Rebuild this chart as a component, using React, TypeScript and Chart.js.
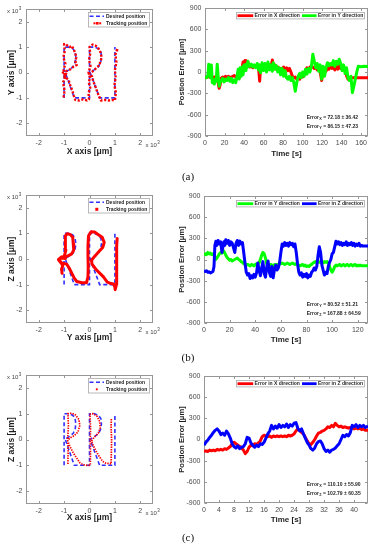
import { useEffect, useRef } from "react";
import { Chart, registerables } from "chart.js";

Chart.register(...registerables);

const PAGE_W = 373;
const PAGE_H = 550;
const SANS = "'Liberation Sans', Arial, Helvetica, sans-serif";
const SERIF = "'Liberation Serif', 'Times New Roman', serif";
const RED = "#ff0000";
const GREEN = "#00ff00";
const BLUE = "#0000ff";
const DESIRED_BLUE = "#3030ff";
const TICK_COLOR = "#4a4a4a";
const TITLE_COLOR = "#1e1e1e";

// ---------------- tick values ----------------
const positionTicks = [-2000, -1000, 0, 1000, 2000];
const errorTicks = [-900, -600, -300, 0, 300, 600, 900];
const timeTicksA = [0, 20, 40, 60, 80, 100, 120, 140, 160];
const timeTicksB = [0, 20, 40, 60, 80, 100, 120];
const timeTicksC = [0, 4, 8, 12, 16, 20, 24, 28, 32, 36, 40];

// ---------------- desired RRI path (µm) ----------------
const desiredX = [-1000, -1000, -800, -660, -570, -540, -560, -640, -780, -960, -600, -300, 0, 0, 0, 200, 360, 450, 470, 440, 350, 200, 20, 400, 700, 1000, 1000];
const desiredY = [-1000, 1000, 1000, 940, 820, 620, 420, 240, 120, 20, -1000, -1000, -1000, 0, 1000, 1000, 930, 800, 600, 400, 230, 110, 10, -1000, -1000, -1000, 1000];

// ---------------- tracking paths (µm) ----------------
const trackAX = [
  -1020, -980, -1040, -960, -1020, -950, -1030, -970, -1000, -900,
  -780, -700, -620, -560, -520, -560, -500, -640, -760, -900,
  -1050, -880, -980, -820, -760, -680, -620, -560, -400, -250,
  -100, -20, -40, 30, -30, 20, -40, 40, -20, 30,
  0, 120, 250, 350, 430, 480, 430, 380, 240, 120,
  -10, 100, 150, 230, 300, 380, 450, 600, 750, 900,
  1000, 1040, 980, 1030, 1000, 1060, 1020, 1100, 1080,
];
const trackAY = [
  -980, -700, -400, -150, 100, 350, 600, 850, 1120, 1080,
  1000, 1050, 900, 760, 600, 450, 300, 220, 120, 60,
  0, -80, -150, -300, -500, -700, -900, -1080, -1100, -1060,
  -1100, -1050, -800, -600, -400, -200, 0, 250, 500, 750,
  1000, 1100, 1050, 950, 800, 600, 420, 280, 150, 40,
  -50, -150, -350, -550, -750, -950, -1100, -1080, -1100, -1080,
  -1100, -800, -500, -200, 100, 400, 700, 950, 850,
];

const trackBX = [
  -1080, -1100, -1050, -1150, -1220, -1100, -950, -980, -930, -960,
  -940, -880, -760, -660, -640, -620, -700, -850, -1100, -1220,
  -1100, -900, -800, -700, -600, -500, -300, -120, -60, -50,
  -60, -60, -40, 60, 200, 350, 500, 580, 520, 380,
  200, 80, 100, 250, 400, 550, 700, 850, 950, 1000,
  1010, 1060, 1070, 1060, 1080, 1070, 1090,
];
const trackBY = [
  -560, -400, -250, -120, -30, 40, 20, 150, 350, 600,
  900, 990, 960, 850, 600, 350, 200, 120, 80, -20,
  -150, -200, -350, -550, -750, -880, -930, -930, -700, -300,
  100, 500, 900, 1060, 1050, 950, 850, 650, 450, 300,
  100, -50, -200, -400, -550, -700, -900, -960, -980, -1100,
  -1200, -1000, -700, -300, 100, 500, 800,
];

const trackCX = [
  -850, -840, -860, -830, -850, -700, -550, -420, -380, -450,
  -600, -780, -860, -780, -650, -520, -380, -250, -100, 30,
  40, 30, 40, 20, 150, 300, 400, 420, 350, 200,
  80, 150, 260, 380, 520, 650, 800, 850, 860, 870,
  850, 860,
];
const trackCY = [
  -950, -500, 0, 500, 1000, 1020, 950, 780, 550, 300,
  150, 50, -50, -250, -500, -700, -900, -980, -1000, -1000,
  -500, 0, 500, 980, 1000, 900, 700, 450, 250, 100,
  -50, -250, -450, -650, -850, -920, -930, -950, -500, 0,
  500, 800,
];

// ---------------- position error series ----------------
const timeA = [
  0, 1.5, 3, 3.8, 4.5, 5.5, 6.5, 7.5, 8.5, 9.5,
  10.5, 11.5, 12.5, 13.5, 14.5, 15.5, 16.5, 18, 19.5, 21,
  22.5, 24, 25.5, 27, 28.5, 30, 31.5, 33, 34, 35,
  36, 37, 38, 39, 40, 41, 42, 43, 44, 45,
  46, 47.5, 49, 50.5, 52, 53.5, 55, 56, 57, 58.5,
  60, 61.5, 63, 64.5, 66, 67.5, 69, 70, 71.5, 73,
  74.5, 76, 77.5, 79, 80.5, 82, 83.5, 85, 86.5, 88,
  89.5, 91, 92.5, 94, 95.5, 97, 98.5, 100, 101.5, 103,
  104.5, 106, 107.5, 109, 110.5, 112, 113.5, 115, 116.5, 118,
  119.5, 121, 122.5, 124, 125.5, 127, 128.5, 130, 131.5, 133,
  134.5, 136, 137.5, 139, 140.5, 142, 143.5, 145, 146.5, 148,
  149.5, 151, 152.5, 154, 155.5, 157, 160, 163, 167,
];
const errorAX = [
  -70, -75, -70, -65, -70, -60, -70, -80, -75, -70,
  -80, -90, -100, -150, -230, -180, -90, -70, -80, -60,
  -70, -60, -80, -70, -60, -50, -70, -60, -40, -80,
  -40, 0, 50, 140, 80, 160, 60, 100, 140, 80,
  70, 80, 60, 90, 70, 80, 40, -130, 80, 60,
  100, 40, 90, 50, 100, 60, 170, 60, 100, 40,
  70, 30, 50, 40, 70, 30, 60, 20, 50, 0,
  -60, -80, -70, -100, -80, -100, -50, -70, -50, 20,
  60, 40, 70, 60, 70, 50, 80, 30, 50, 0,
  -120, 20, 40, 10, 60, 40, 80, 50, 70, 30,
  80, 40, 90, 50, 60, 30, 50, -50, -100, -80,
  -90, -80, -80, -80, -80, -80, -80, -80, -80,
];
const errorAY = [
  -60, -80, -50, 110, 60, -80, 100, -150, -120, -170,
  -100, -130, 110, -60, -200, -150, -120, -90, -140, -100,
  -120, -80, -130, -90, -150, -110, -150, -50, 40, -100,
  60, -60, 70, -40, 100, 20, 110, 60, 150, 100,
  80, 110, 70, 100, 60, 120, 30, 100, -10, 130,
  20, 120, 0, 140, 30, 100, 10, 130, 40, 90,
  0, 60, -40, 50, -60, 20, -80, -100, -60, -120,
  -80, -150, -270, -150, -60, -20, -80, 0, -60, 40,
  -30, 50, 0, 80, 250, 150, 60, 120, 10, 100,
  -100, 80, -60, 60, 130, 90, 120, 100, 160, 80,
  150, 110, 180, 120, 20, 100, -20, 60, -80, -120,
  -60, -290, -200, -100, 0, 80, 75, 80, 78,
];

const timeB = [
  0, 1, 2, 3, 4, 5, 6, 7, 7.8, 8.5,
  9.3, 10, 11, 12, 13, 14, 14.8, 15.5, 16.3, 17,
  18, 19, 20, 21, 22, 23, 24, 25, 26, 27,
  28, 29, 30, 31, 32, 33, 34, 35, 36, 37,
  38, 39, 40, 41, 42, 43, 44, 45, 46, 47,
  48, 49, 50, 51, 52, 53, 54, 55, 56, 57,
  58, 59, 60, 61, 62, 63, 64, 65, 66, 67,
  68, 69, 70, 71, 72, 73, 74, 75, 76, 77,
  78, 79, 80, 81, 82, 83, 84, 85, 86, 87,
  88, 89, 90, 91, 92, 93, 94, 95, 96, 97,
  98, 99, 100, 101, 102, 103, 104, 105, 106, 107,
  108, 109, 110, 111, 112, 113, 114, 115, 116, 117,
  118, 119, 120, 121, 122, 123, 124, 125, 126, 128,
];
const errorBY = [
  60, 80, 70, 100, 80, 90, 70, 80, 60, 30,
  0, 20, 50, 80, 100, 90, 110, 120, 90, 60,
  30, 10, -10, 0, -20, -10, 0, 10, 20, 0,
  -10, -30, -40, -60, -70, -80, -70, -80, -90, -70,
  -80, -90, -70, -60, -70, -50, 0, 60, 100, 80,
  20, -60, -80, -90, -70, -80, -90, -70, -80, -70,
  -80, -60, -60, -50, -60, -70, -60, -50, -60, -70,
  -60, -50, -60, -70, -60, -70, -80, -90, -80, -70,
  -90, -80, -100, -90, -100, -80, -70, -50, -40, -30,
  -40, -30, -40, -30, -40, -50, -30, -40, -30, -50,
  -100, -150, -180, -150, -100, -80, -90, -80, -70, -90,
  -80, -70, -90, -80, -70, -90, -80, -70, -90, -80,
  -70, -90, -80, -90, -80, -90, -90, -90, -90, -90,
];
const errorBZ = [
  -160, -170, -160, -180, -175, -190, -180, -170, -100, 200,
  260, 200, 270, 220, 250, 100, 180, 250, 200, 280,
  230, 270, 200, 250, 230, 170, 100, 230, 270, 200,
  260, 220, 240, 100, -50, -180, -220, -200, -270, -230,
  -260, -210, -250, -190, -50, -150, -230, -120, -30, -200,
  -250, -100, -20, -180, -240, -100, -260, -140, -80, -150,
  -120, -40, 100, 220, 190, 240, 200, 230, 190, 240,
  210, 230, 180, 220, 100, -60, -180, -220, -190, -250,
  -210, -240, -200, -260, -220, -240, -180, -160, -120, -150,
  -100, 60, 180, 100, -80, -150, -220, -180, -200, -100,
  -40, 0, 80, 100, 180, 260, 220, 250, 210, 240,
  200, 230, 210, 250, 200, 230, 210, 240, 200, 230,
  190, 220, 200, 230, 190, 200, 190, 190, 190, 190,
];

const timeC = [
  0, 0.5, 1, 1.5, 2, 2.5, 3, 3.5, 4, 4.5,
  5, 5.5, 6, 6.5, 7, 7.5, 8, 8.5, 9, 9.5,
  10, 10.5, 11, 11.5, 12, 12.5, 13, 13.5, 14, 14.5,
  15, 15.5, 16, 16.5, 17, 17.5, 18, 18.5, 19, 19.5,
  20, 20.5, 21, 21.5, 22, 22.5, 23, 23.5, 24, 24.5,
  25, 25.5, 26, 26.5, 27, 27.5, 28, 28.5, 29, 29.5,
  30, 30.5, 31, 31.5, 32, 32.5, 33, 33.5, 34, 34.5,
  35, 35.5, 36, 36.5, 37, 37.5, 38, 38.5, 39, 39.5,
  40, 40.5, 41, 41.5, 42, 42.5, 43, 43.7,
];
const errorCX = [
  -170, -160, -170, -150, -160, -150, -160, -140, -150, -140,
  -150, -130, -140, -120, -100, -60, -40, -60, -80, -100,
  -120, -150, -200, -170, -110, -80, -90, -60, -70, -50,
  -20, 40, 60, 50, 40, 50, 30, 50, 40, 50,
  40, 50, 40, 50, 40, 60, 50, 60, 80, 120,
  150, 130, 100, 80, 30, -20, -60, -70, -40, 0,
  50, 90, 100, 120, 130, 150, 180, 170, 200, 180,
  230, 200, 180, 190, 170, 180, 170, 160, 170, 160,
  150, 160, 150, 160, 140, 150, 130, 130,
];
const errorCZ = [
  -80, -40, -10, 30, 60, 100, 130, 150, 120, 70,
  90, 60, 120, 80, 20, -60, -100, -120, -90, -130,
  -110, -100, -60, 30, 20, -50, -80, -110, -80, -100,
  -60, -70, -40, 20, 80, 120, 200, 150, 190, 160,
  210, 170, 200, 180, 220, 170, 210, 190, 230, 240,
  160, 120, 150, 80, 20, -40, -80, -130, -150, -120,
  -60, -30, -20, -60, -130, -170, -150, -180, -150, -140,
  -120, -90, -60, 0, 60, 40, 70, 50, 100, 200,
  180, 210, 170, 200, 180, 200, 170, 190,
];

// ---------------- helpers ----------------
type Area = { left: number; right: number; top: number; bottom: number };
type Geo = { l: number; r: number; t: number; b: number };

const pts = (xs: number[], ys: number[]) => xs.map((x, i) => ({ x, y: ys[i] }));

function setFont(ctx: CanvasRenderingContext2D, size: number, bold: boolean) {
  ctx.font = `${bold ? "bold " : ""}${size}px ${SANS}`;
}

function drawBox(ctx: CanvasRenderingContext2D, x: number, y: number, w: number, h: number) {
  ctx.fillStyle = "#ffffff";
  ctx.fillRect(x, y, w, h);
  ctx.strokeStyle = "#a9a9a9";
  ctx.lineWidth = 0.8;
  ctx.strokeRect(x + 0.5, y + 0.5, w - 1, h - 1);
}

function drawExponent(ctx: CanvasRenderingContext2D, x: number, y: number) {
  ctx.fillStyle = "#444";
  ctx.textBaseline = "middle";
  ctx.textAlign = "left";
  setFont(ctx, 6, false);
  ctx.fillText("x 10", x, y);
  const w = ctx.measureText("x 10").width;
  setFont(ctx, 4.5, false);
  ctx.fillText("3", x + w + 0.5, y - 2.8);
}

type MarkerKind = "squares" | "square" | "dot";

function drawXYOverlay(ctx: CanvasRenderingContext2D, a: Area, marker: MarkerKind) {
  const x = 88;
  const y = a.top + 3;
  drawBox(ctx, x, y, 62, 15.5);
  const y1 = y + 4.2;
  const y2 = y + 11.3;
  ctx.strokeStyle = DESIRED_BLUE;
  ctx.lineWidth = 1.5;
  ctx.setLineDash([4, 2.5]);
  ctx.beginPath();
  ctx.moveTo(89.5, y1);
  ctx.lineTo(104, y1);
  ctx.stroke();
  ctx.setLineDash([]);
  ctx.fillStyle = RED;
  if (marker === "squares") {
    ctx.fillRect(93.5, y2 - 1, 2, 2);
    ctx.fillRect(96, y2 - 1.3, 2.6, 2.6);
    ctx.fillRect(99.2, y2 - 1, 2, 2);
  } else if (marker === "square") {
    ctx.fillRect(95.3, y2 - 1.5, 3, 3);
  } else {
    ctx.beginPath();
    ctx.arc(96.8, y2, 1.1, 0, Math.PI * 2);
    ctx.fill();
  }
  ctx.fillStyle = TITLE_COLOR;
  ctx.textBaseline = "middle";
  ctx.textAlign = "left";
  setFont(ctx, 5, true);
  ctx.fillText("Desired position", 106, y1);
  ctx.fillText("Tracking position", 106, y2);
  drawExponent(ctx, 7, a.top + 2.5);
  drawExponent(ctx, 145.5, a.bottom + 9.5);
}

function drawTSOverlay(
  ctx: CanvasRenderingContext2D,
  a: Area,
  items: [string, string][],
  stats: [string, string][]
) {
  const x = 236;
  const y = a.top + 4;
  const h = 7.4;
  drawBox(ctx, x, y, 129, h);
  const cy = y + h / 2;
  const sampleX = [
    [237.5, 253.2, 254.6],
    [302, 316.6, 318],
  ];
  items.forEach(([color, label], i) => {
    const [s0, s1, tx] = sampleX[i];
    ctx.strokeStyle = color;
    ctx.lineWidth = 2.8;
    ctx.beginPath();
    ctx.moveTo(s0, cy);
    ctx.lineTo(s1, cy);
    ctx.stroke();
    ctx.fillStyle = TITLE_COLOR;
    ctx.textBaseline = "middle";
    ctx.textAlign = "left";
    setFont(ctx, 5, true);
    ctx.fillText(label, tx, cy + 0.2);
  });
  stats.forEach(([sub, rest], i) => {
    const sy = a.bottom - 18.5 + i * 8.7;
    let sx = 306.7;
    ctx.fillStyle = TITLE_COLOR;
    ctx.textBaseline = "middle";
    ctx.textAlign = "left";
    setFont(ctx, 5, true);
    ctx.fillText("Error", sx, sy);
    sx += ctx.measureText("Error").width;
    setFont(ctx, 3.8, true);
    ctx.fillText(sub, sx + 0.2, sy + 1.6);
    sx += ctx.measureText(sub).width + 0.4;
    setFont(ctx, 5, true);
    ctx.fillText(rest, sx, sy);
  });
}

const framePlugin = {
  id: "matlabFrame",
  beforeDatasetsDraw(chart: any) {
    const { ctx, chartArea: a, scales } = chart;
    const L = Math.round(a.left) + 0.5;
    const R = Math.round(a.right) - 0.5;
    const T = Math.round(a.top) + 0.5;
    const B = Math.round(a.bottom) - 0.5;
    ctx.save();
    ctx.strokeStyle = "#969696";
    ctx.lineWidth = 1;
    ctx.strokeRect(L, T, R - L, B - T);
    ctx.beginPath();
    for (const t of scales.x.ticks) {
      const p = Math.round(scales.x.getPixelForValue(t.value)) + 0.5;
      ctx.moveTo(p, B);
      ctx.lineTo(p, B - 2.5);
      ctx.moveTo(p, T);
      ctx.lineTo(p, T + 2.5);
    }
    for (const t of scales.y.ticks) {
      const p = Math.round(scales.y.getPixelForValue(t.value)) + 0.5;
      ctx.moveTo(L, p);
      ctx.lineTo(L + 2.5, p);
      ctx.moveTo(R, p);
      ctx.lineTo(R - 2.5, p);
    }
    ctx.stroke();
    ctx.restore();
  },
};

interface PanelDef {
  geo: Geo;
  xMin: number;
  xMax: number;
  xTicks: number[];
  yMin: number;
  yMax: number;
  yTicks: number[];
  fmt: (v: number) => string;
  xTitle: string;
  xTitleSize: number;
  xTitleY: number;
  yTitle: string;
  yTitleSize: number;
  yTitleX: number;
  datasets: any[];
  overlay: (ctx: CanvasRenderingContext2D, a: Area) => void;
}

function buildConfig(p: PanelDef): any {
  const padLeft = p.yTitleX - (p.yTitleSize * 1.2) / 2;
  const scaleBottom = p.xTitleY + (p.xTitleSize * 1.2) / 2;
  const yWidth = p.geo.l - padLeft;
  const xHeight = scaleBottom - p.geo.b;
  const tickFont = { family: SANS, size: 7 };
  return {
    type: "scatter",
    data: { datasets: p.datasets },
    options: {
      responsive: false,
      animation: false,
      events: [],
      layout: {
        padding: { left: padLeft, top: p.geo.t, right: PAGE_W - p.geo.r, bottom: PAGE_H - scaleBottom },
      },
      plugins: { legend: { display: false }, tooltip: { enabled: false } },
      scales: {
        x: {
          type: "linear",
          position: "bottom",
          min: p.xMin,
          max: p.xMax,
          grid: { display: false, drawTicks: false },
          border: { display: false },
          afterBuildTicks: (s: any) => {
            s.ticks = p.xTicks.map((v) => ({ value: v }));
          },
          ticks: {
            padding: 3,
            font: tickFont,
            color: TICK_COLOR,
            maxRotation: 0,
            autoSkip: false,
            callback: (v: any) => p.fmt(Number(v)),
          },
          title: {
            display: true,
            text: p.xTitle,
            color: TITLE_COLOR,
            padding: 0,
            font: { family: SANS, size: p.xTitleSize, weight: "bold" },
          },
          afterFit: (s: any) => {
            s.height = xHeight;
          },
        },
        y: {
          type: "linear",
          position: "left",
          min: p.yMin,
          max: p.yMax,
          grid: { display: false, drawTicks: false },
          border: { display: false },
          afterBuildTicks: (s: any) => {
            s.ticks = p.yTicks.map((v) => ({ value: v }));
          },
          ticks: {
            padding: 3.5,
            font: tickFont,
            color: TICK_COLOR,
            autoSkip: false,
            callback: (v: any) => p.fmt(Number(v)),
          },
          title: {
            display: true,
            text: p.yTitle,
            color: TITLE_COLOR,
            padding: 0,
            font: { family: SANS, size: p.yTitleSize, weight: "bold" },
          },
          afterFit: (s: any) => {
            s.width = yWidth;
          },
        },
      },
    },
    plugins: [
      framePlugin,
      {
        id: "panelOverlay",
        afterDraw(chart: any) {
          const ctx = chart.ctx as CanvasRenderingContext2D;
          ctx.save();
          p.overlay(ctx, chart.chartArea);
          ctx.restore();
        },
      },
    ],
  };
}

const kiloFmt = (v: number) => String(Math.round(v / 1000));
const plainFmt = (v: number) => String(v);

function desiredSet() {
  return {
    label: "Desired position",
    data: pts(desiredX, desiredY),
    showLine: true,
    borderColor: DESIRED_BLUE,
    borderWidth: 1.6,
    borderDash: [4, 2.5],
    pointRadius: 0,
    tension: 0,
    order: 1,
  };
}

function trackSet(xs: number[], ys: number[], width: number, dash: number[]) {
  return {
    label: "Tracking position",
    data: pts(xs, ys),
    showLine: true,
    borderColor: RED,
    borderWidth: width,
    borderDash: dash,
    borderCapStyle: dash.length ? "butt" : "round",
    borderJoinStyle: "round",
    pointRadius: 0,
    tension: 0,
    order: 0,
  };
}

function errorSet(label: string, t: number[], v: number[], color: string, order: number) {
  return {
    label,
    data: pts(t, v),
    showLine: true,
    borderColor: color,
    borderWidth: 3,
    borderJoinStyle: "round",
    pointRadius: 0,
    tension: 0,
    order,
  };
}

function xyPanel(geo: Geo, xTitle: string, yTitle: string, xTitleY: number, track: any, marker: MarkerKind): PanelDef {
  return {
    geo,
    xMin: -2500,
    xMax: 2500,
    xTicks: positionTicks,
    yMin: -2500,
    yMax: 2500,
    yTicks: positionTicks,
    fmt: kiloFmt,
    xTitle,
    xTitleSize: 8.5,
    xTitleY,
    yTitle,
    yTitleSize: 8.5,
    yTitleX: 12,
    datasets: [desiredSet(), track],
    overlay: (ctx, a) => drawXYOverlay(ctx, a, marker),
  };
}

function tsPanel(
  geo: Geo,
  xMax: number,
  xTicks: number[],
  xTitleY: number,
  datasets: any[],
  items: [string, string][],
  stats: [string, string][]
): PanelDef {
  return {
    geo,
    xMin: 0,
    xMax,
    xTicks,
    yMin: -900,
    yMax: 900,
    yTicks: errorTicks,
    fmt: plainFmt,
    xTitle: "Time [s]",
    xTitleSize: 8,
    xTitleY,
    yTitle: "Postion Error [μm]",
    yTitleSize: 7.5,
    yTitleX: 181.5,
    datasets,
    overlay: (ctx, a) => drawTSOverlay(ctx, a, items, stats),
  };
}

const PANELS: PanelDef[] = [
  xyPanel({ l: 26, r: 153, t: 9, b: 136 }, "X axis [μm]", "Y axis [μm]", 152, trackSet(trackAX, trackAY, 2.4, [2.2, 1.6]), "squares"),
  tsPanel(
    { l: 205, r: 368, t: 8, b: 136 },
    167,
    timeTicksA,
    154,
    [errorSet("Error in X direction", timeA, errorAX, RED, 1), errorSet("Error in Y direction", timeA, errorAY, GREEN, 0)],
    [
      [RED, "Error in X direction"],
      [GREEN, "Error in Y direction"],
    ],
    [
      ["X", " = 72.18 ± 36.42"],
      ["Y", " = 86.15 ± 47.23"],
    ]
  ),
  xyPanel({ l: 26, r: 153, t: 195, b: 323 }, "Y axis [μm]", "Z axis [μm]", 338, trackSet(trackBX, trackBY, 3, []), "square"),
  tsPanel(
    { l: 204, r: 368, t: 196, b: 323 },
    128,
    timeTicksB,
    340,
    [errorSet("Error in Y direction", timeB, errorBY, GREEN, 1), errorSet("Error in Z direction", timeB, errorBZ, BLUE, 0)],
    [
      [GREEN, "Error in Y direction"],
      [BLUE, "Error in Z direction"],
    ],
    [
      ["Y", " = 80.52 ± 51.21"],
      ["Z", " = 167.88 ± 64.59"],
    ]
  ),
  xyPanel({ l: 26, r: 153, t: 375, b: 504 }, "X axis [μm]", "Z axis [μm]", 518, trackSet(trackCX, trackCY, 1.7, [1.4, 1.1]), "dot"),
  tsPanel(
    { l: 204, r: 368, t: 376, b: 503 },
    43.7,
    timeTicksC,
    520,
    [errorSet("Error in X direction", timeC, errorCX, RED, 1), errorSet("Error in Z direction", timeC, errorCZ, BLUE, 0)],
    [
      [RED, "Error in X direction"],
      [BLUE, "Error in Z direction"],
    ],
    [
      ["X", " = 110.10 ± 55.90"],
      ["Z", " = 102.79 ± 60.35"],
    ]
  ),
];

const panelLabels = [
  { text: "(a)", y: 176 },
  { text: "(b)", y: 357 },
  { text: "(c)", y: 537 },
];

export default function App() {
  const refs = useRef<(HTMLCanvasElement | null)[]>([]);

  useEffect(() => {
    const charts = PANELS.map((p, i) => new Chart(refs.current[i] as HTMLCanvasElement, buildConfig(p)));
    return () => charts.forEach((c) => c.destroy());
  }, []);

  return (
    <div
      style={{
        position: "fixed",
        left: 0,
        top: 0,
        width: PAGE_W,
        height: PAGE_H,
        background: "#ffffff",
        overflow: "hidden",
      }}
    >
      {PANELS.map((_, i) => (
        <canvas
          key={i}
          ref={(el) => {
            refs.current[i] = el;
          }}
          width={PAGE_W}
          height={PAGE_H}
          style={{ position: "absolute", left: 0, top: 0, width: PAGE_W, height: PAGE_H }}
        />
      ))}
      {panelLabels.map((l) => (
        <div
          key={l.text}
          style={{
            position: "absolute",
            left: 188,
            top: l.y,
            transform: "translate(-50%, -50%)",
            font: `11px ${SERIF}`,
            color: "#111",
            lineHeight: "12px",
            whiteSpace: "nowrap",
          }}
        >
          {l.text}
        </div>
      ))}
    </div>
  );
}
